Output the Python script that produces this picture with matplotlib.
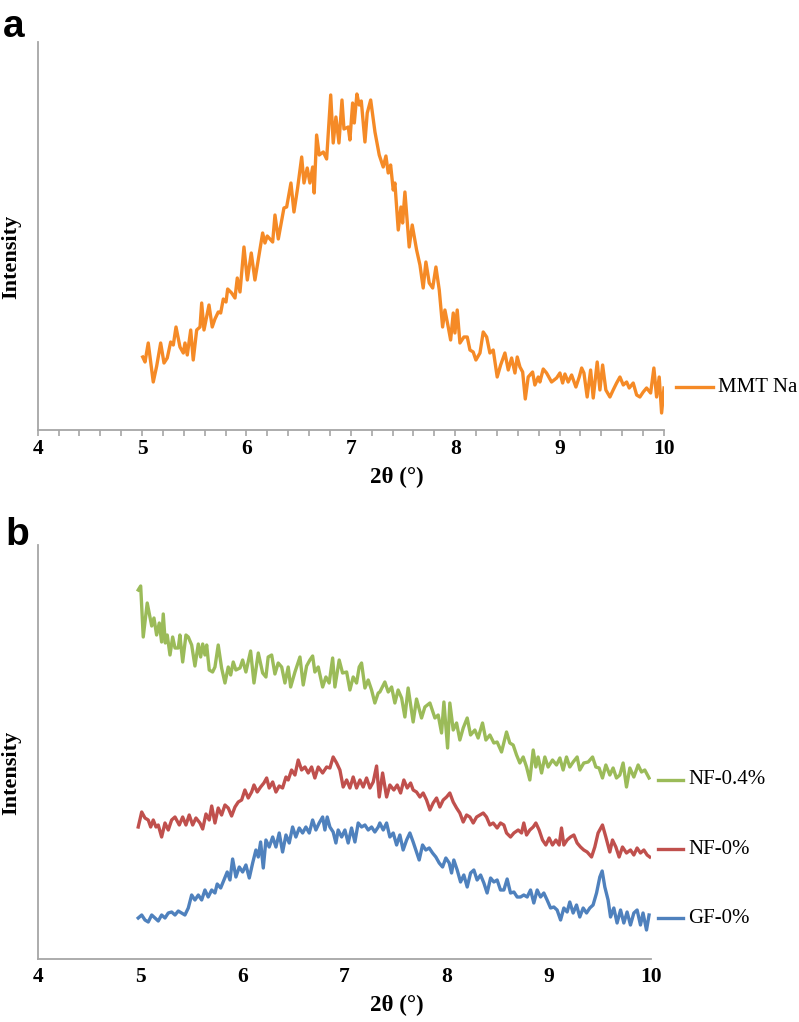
import matplotlib
matplotlib.use("Agg")
import matplotlib.pyplot as plt
from matplotlib.lines import Line2D
from matplotlib.ticker import MultipleLocator

# ---------------- data ----------------
mmt_theta = [5.006, 5.028, 5.059, 5.107, 5.140, 5.178, 5.210, 5.241, 5.274, 5.299, 5.325, 5.363, 5.395, 5.411,
             5.433, 5.466, 5.490, 5.523, 5.555, 5.571, 5.593, 5.641, 5.672, 5.698, 5.730, 5.753, 5.778, 5.804,
             5.820, 5.858, 5.890, 5.912, 5.938, 5.976, 6.008, 6.046, 6.081, 6.155, 6.177, 6.199, 6.251, 6.273,
             6.305, 6.359, 6.385, 6.426, 6.455, 6.490, 6.529, 6.551, 6.582, 6.608, 6.634, 6.649, 6.672, 6.697,
             6.736, 6.768, 6.807, 6.831, 6.857, 6.886, 6.915, 6.934, 6.975, 6.991, 7.017, 7.033, 7.058, 7.080,
             7.100, 7.135, 7.157, 7.190, 7.231, 7.272, 7.310, 7.336, 7.358, 7.381, 7.406, 7.422, 7.454, 7.480,
             7.496, 7.518, 7.559, 7.588, 7.630, 7.662, 7.693, 7.719, 7.751, 7.784, 7.815, 7.847, 7.879, 7.901,
             7.933, 7.956, 7.981, 7.997, 8.019, 8.045, 8.083, 8.115, 8.141, 8.172, 8.198, 8.237, 8.268, 8.301,
             8.332, 8.364, 8.402, 8.435, 8.476, 8.508, 8.540, 8.572, 8.594, 8.620, 8.646, 8.671, 8.699, 8.741,
             8.763, 8.795, 8.811, 8.843, 8.875, 8.923, 8.971, 9.003, 9.029, 9.051, 9.082, 9.115, 9.156, 9.188,
             9.211, 9.233, 9.264, 9.297, 9.322, 9.360, 9.386, 9.412, 9.443, 9.482, 9.513, 9.546, 9.578, 9.610,
             9.642, 9.667, 9.705, 9.738, 9.769, 9.801, 9.833, 9.872, 9.903, 9.929, 9.954, 9.977, 10.0]
mmt_int = [73, 68, 87, 48, 64, 87, 67, 72, 88, 85, 103, 83, 77, 87,
           75, 100, 70, 100, 103, 127, 100, 125, 103, 111, 118, 117, 131, 128,
           141, 137, 132, 152, 138, 183, 150, 177, 150, 197, 187, 194, 188, 215,
           191, 222, 223, 247, 218, 242, 273, 247, 262, 247, 263, 237, 295, 275,
           278, 271, 335, 287, 313, 287, 330, 301, 303, 290, 327, 307, 336, 325,
           329, 288, 317, 330, 298, 275, 263, 274, 257, 265, 240, 247, 200, 223,
           207, 238, 183, 205, 180, 165, 142, 168, 147, 142, 163, 140, 103, 120,
           103, 90, 117, 97, 120, 87, 93, 93, 80, 78, 70, 77, 98, 93,
           77, 80, 53, 65, 77, 60, 72, 57, 73, 63, 58, 31, 53, 58,
           45, 53, 48, 61, 57, 48, 52, 57, 47, 56, 48, 55, 43, 53,
           62, 57, 33, 60, 32, 68, 40, 65, 40, 33, 40, 47, 53, 45,
           48, 42, 47, 35, 33, 38, 42, 37, 62, 33, 53, 17, 42]

nf04_theta = [4.981, 5.005, 5.030, 5.069, 5.096, 5.113, 5.135, 5.161, 5.187, 5.210, 5.226, 5.246, 5.265, 5.292,
              5.318, 5.341, 5.373, 5.389, 5.416, 5.448, 5.471, 5.504, 5.536, 5.569, 5.592, 5.612, 5.634, 5.651,
              5.676, 5.709, 5.732, 5.764, 5.797, 5.830, 5.862, 5.886, 5.911, 5.937, 5.977, 6.003, 6.035, 6.081,
              6.114, 6.156, 6.199, 6.231, 6.253, 6.287, 6.319, 6.351, 6.385, 6.417, 6.449, 6.473, 6.515, 6.564,
              6.596, 6.629, 6.661, 6.688, 6.710, 6.743, 6.786, 6.818, 6.850, 6.884, 6.906, 6.948, 6.981, 7.021,
              7.053, 7.085, 7.118, 7.144, 7.167, 7.200, 7.232, 7.265, 7.297, 7.330, 7.346, 7.395, 7.428, 7.461,
              7.493, 7.525, 7.559, 7.591, 7.623, 7.672, 7.705, 7.754, 7.787, 7.836, 7.885, 7.917, 7.950, 7.973,
              8.009, 8.031, 8.064, 8.097, 8.129, 8.162, 8.201, 8.234, 8.276, 8.308, 8.351, 8.384, 8.423, 8.462,
              8.494, 8.537, 8.586, 8.618, 8.651, 8.684, 8.716, 8.749, 8.782, 8.814, 8.847, 8.873, 8.895, 8.929,
              8.961, 8.993, 9.036, 9.075, 9.108, 9.140, 9.173, 9.205, 9.238, 9.277, 9.303, 9.342, 9.385, 9.428,
              9.460, 9.492, 9.525, 9.558, 9.597, 9.629, 9.662, 9.695, 9.727, 9.760, 9.793, 9.832, 9.874, 9.907,
              9.939, 9.981]
nf04_int = [369, 373, 322, 356, 342, 333, 341, 324, 336, 317, 345, 316, 324, 304,
            322, 311, 311, 324, 297, 324, 322, 314, 293, 315, 302, 315, 304, 314,
            289, 287, 292, 314, 291, 276, 292, 284, 297, 289, 291, 299, 287, 308,
            276, 306, 286, 282, 302, 304, 285, 296, 292, 276, 292, 272, 287, 302,
            274, 293, 299, 303, 287, 292, 272, 282, 276, 301, 272, 299, 286, 287,
            269, 282, 276, 292, 296, 271, 279, 269, 256, 266, 267, 277, 267, 272,
            256, 269, 261, 242, 271, 237, 260, 241, 252, 256, 241, 244, 226, 257,
            211, 256, 229, 236, 219, 231, 241, 224, 229, 221, 236, 219, 224, 216,
            217, 207, 227, 216, 214, 204, 196, 202, 192, 179, 209, 192, 202, 186,
            202, 192, 199, 194, 201, 189, 202, 192, 197, 202, 189, 196, 197, 202,
            192, 191, 181, 194, 184, 191, 181, 184, 196, 172, 191, 182, 194, 187,
            189, 181]

nf0_theta = [4.981, 5.015, 5.047, 5.079, 5.103, 5.128, 5.155, 5.177, 5.210, 5.243, 5.275, 5.308, 5.341, 5.383,
             5.416, 5.448, 5.480, 5.514, 5.546, 5.585, 5.612, 5.644, 5.676, 5.700, 5.732, 5.764, 5.797, 5.830,
             5.862, 5.895, 5.928, 5.960, 5.993, 6.025, 6.058, 6.091, 6.114, 6.146, 6.179, 6.211, 6.238, 6.263,
             6.297, 6.329, 6.361, 6.394, 6.427, 6.449, 6.482, 6.515, 6.547, 6.580, 6.613, 6.645, 6.678, 6.710,
             6.743, 6.786, 6.825, 6.857, 6.889, 6.923, 6.955, 6.987, 7.021, 7.053, 7.085, 7.118, 7.151, 7.183,
             7.216, 7.249, 7.281, 7.314, 7.340, 7.373, 7.412, 7.444, 7.483, 7.516, 7.549, 7.581, 7.614, 7.647,
             7.672, 7.705, 7.738, 7.770, 7.803, 7.836, 7.868, 7.901, 7.933, 7.966, 7.999, 8.031, 8.064, 8.097,
             8.129, 8.162, 8.195, 8.227, 8.260, 8.293, 8.325, 8.358, 8.390, 8.423, 8.455, 8.494, 8.527, 8.560,
             8.586, 8.625, 8.658, 8.700, 8.733, 8.755, 8.782, 8.814, 8.847, 8.873, 8.905, 8.938, 8.971, 9.003,
             9.036, 9.069, 9.101, 9.124, 9.147, 9.179, 9.212, 9.245, 9.277, 9.310, 9.342, 9.375, 9.418, 9.450,
             9.482, 9.525, 9.558, 9.597, 9.623, 9.656, 9.688, 9.721, 9.760, 9.799, 9.832, 9.864, 9.897, 9.930,
             9.962, 9.988]
nf0_int = [132, 147, 141, 139, 132, 139, 132, 134, 122, 136, 129, 139, 142, 134,
           142, 134, 144, 134, 141, 136, 130, 145, 139, 153, 136, 151, 144, 154,
           151, 143, 152, 157, 159, 169, 161, 167, 174, 167, 172, 176, 181, 171,
           177, 167, 173, 171, 182, 179, 189, 184, 199, 189, 192, 186, 192, 181,
           192, 186, 192, 191, 202, 196, 189, 172, 179, 171, 182, 171, 179, 172,
           181, 171, 177, 193, 162, 186, 162, 174, 169, 174, 166, 179, 171, 176,
           169, 167, 162, 166, 159, 149, 156, 161, 152, 159, 162, 166, 157, 151,
           146, 137, 144, 142, 136, 142, 144, 146, 142, 134, 136, 131, 136, 134,
           126, 122, 126, 129, 126, 136, 124, 129, 132, 136, 129, 119, 114, 121,
           114, 119, 114, 131, 114, 119, 122, 124, 116, 112, 109, 107, 102, 112,
           126, 134, 122, 107, 119, 112, 102, 112, 106, 109, 104, 111, 106, 109,
           104, 102]

gf0_theta = [4.981, 5.015, 5.047, 5.079, 5.113, 5.145, 5.177, 5.210, 5.243, 5.275, 5.308, 5.341, 5.373, 5.406,
             5.438, 5.471, 5.504, 5.536, 5.569, 5.602, 5.634, 5.666, 5.700, 5.732, 5.754, 5.788, 5.820, 5.852,
             5.879, 5.905, 5.937, 5.970, 6.003, 6.035, 6.068, 6.101, 6.133, 6.156, 6.179, 6.205, 6.231, 6.263,
             6.297, 6.329, 6.361, 6.394, 6.427, 6.459, 6.492, 6.524, 6.557, 6.590, 6.622, 6.655, 6.688, 6.720,
             6.752, 6.786, 6.808, 6.831, 6.857, 6.889, 6.916, 6.938, 6.972, 7.004, 7.036, 7.069, 7.102, 7.134,
             7.167, 7.200, 7.232, 7.265, 7.297, 7.330, 7.346, 7.379, 7.412, 7.444, 7.477, 7.510, 7.542, 7.574,
             7.608, 7.640, 7.672, 7.705, 7.731, 7.764, 7.796, 7.829, 7.862, 7.894, 7.927, 7.960, 7.992, 8.025,
             8.048, 8.070, 8.103, 8.136, 8.168, 8.201, 8.234, 8.266, 8.298, 8.332, 8.364, 8.396, 8.430, 8.462,
             8.494, 8.527, 8.560, 8.592, 8.625, 8.658, 8.690, 8.723, 8.755, 8.788, 8.821, 8.853, 8.886, 8.919,
             8.951, 8.983, 9.017, 9.049, 9.081, 9.115, 9.147, 9.179, 9.205, 9.238, 9.271, 9.303, 9.336, 9.369,
             9.401, 9.433, 9.467, 9.499, 9.522, 9.548, 9.580, 9.604, 9.636, 9.668, 9.702, 9.734, 9.766, 9.799,
             9.832, 9.864, 9.897, 9.922, 9.956, 9.981]
gf0_int = [41, 44, 39, 37, 44, 41, 38, 44, 41, 46, 47, 44, 48, 46,
           44, 51, 64, 59, 64, 59, 69, 62, 69, 66, 75, 71, 79, 87,
           79, 100, 82, 92, 87, 94, 81, 96, 109, 102, 117, 91, 119, 112,
           122, 112, 126, 107, 124, 116, 132, 122, 131, 126, 132, 126, 139, 129,
           136, 142, 129, 142, 132, 127, 116, 129, 122, 129, 116, 131, 117, 136,
           132, 134, 129, 132, 127, 132, 136, 129, 136, 122, 126, 114, 124, 109,
           119, 126, 117, 107, 99, 114, 109, 111, 106, 102, 96, 92, 101, 96,
           86, 99, 89, 77, 84, 72, 86, 89, 79, 84, 76, 66, 81, 77,
           79, 69, 69, 80, 66, 67, 62, 62, 64, 62, 69, 56, 69, 62,
           66, 59, 51, 52, 49, 39, 51, 47, 57, 46, 54, 42, 51, 46,
           51, 54, 66, 82, 88, 72, 59, 42, 51, 36, 49, 36, 47, 34,
           46, 49, 34, 46, 29, 44]

x_ticks = [4, 5, 6, 7, 8, 9, 10]
x_label = "2θ (°)"
y_label = "Intensity"
legend_a = ["MMT Na"]
legend_b = ["NF-0.4%", "NF-0%", "GF-0%"]

# ---------------- style ----------------
W, H = 799, 1022
ORANGE = "#F58A26"
GREEN = "#9BBB59"
RED = "#C0504D"
BLUE = "#4F81BD"
SPINE = "#A6A6A6"
SERIF = ["Liberation Serif", "DejaVu Serif"]
SANS = ["Liberation Sans", "DejaVu Sans"]
LW = 2.4

fig = plt.figure(figsize=(W / 100, H / 100), dpi=100)


def px(x0, y_top, x1, y_bot):
    return [x0 / W, 1 - y_bot / H, (x1 - x0) / W, (y_bot - y_top) / H]


def style_axis(ax, minor):
    for s in ["top", "right"]:
        ax.spines[s].set_visible(False)
    for s in ["left", "bottom"]:
        ax.spines[s].set_color(SPINE)
        ax.spines[s].set_linewidth(1.3)
    ax.set_yticks([])
    ax.set_xlim(4, 10)
    ax.set_xticks(x_ticks)
    ax.set_xticklabels([str(t) for t in x_ticks], fontfamily=SERIF,
                       fontweight="bold", fontsize=15.5)
    if minor:
        ax.xaxis.set_minor_locator(MultipleLocator(0.2))
        ax.tick_params(axis="x", which="both", direction="out", length=4.5,
                       width=1.2, color=SPINE, pad=2)
    else:
        ax.tick_params(axis="x", which="both", length=0, pad=6)


# ---- panel a ----
axA = fig.add_axes(px(37.7, 42, 664, 430))
axA.plot(mmt_theta, mmt_int, color=ORANGE, lw=LW, solid_joinstyle="round")
axA.set_ylim(0, 388)
style_axis(axA, True)

fig.text(3 / W, 1 - 37 / H, "a", fontfamily=SANS, fontweight="bold",
         fontsize=28, ha="left", va="baseline")
fig.text(11 / W, 1 - 257 / H, y_label, rotation=90, fontfamily=SERIF,
         fontweight="bold", fontsize=16, ha="center", va="center")
fig.text(397 / W, 1 - 477 / H, x_label, fontfamily=SERIF, fontweight="bold",
         fontsize=16.5, ha="center", va="center")
fig.add_artist(Line2D([676 / W, 713 / W], [1 - 387 / H, 1 - 387 / H],
                      color=ORANGE, lw=LW, transform=fig.transFigure))
fig.text(718 / W, 1 - 387 / H, legend_a[0], fontfamily=SERIF, fontsize=15,
         ha="left", va="center")

# ---- panel b ----
axB = fig.add_axes(px(38, 545, 651, 959))
axB.plot(nf04_theta, nf04_int, color=GREEN, lw=LW, solid_joinstyle="round")
axB.plot(nf0_theta, nf0_int, color=RED, lw=LW, solid_joinstyle="round")
axB.plot(gf0_theta, gf0_int, color=BLUE, lw=LW, solid_joinstyle="round")
axB.set_ylim(0, 414)
style_axis(axB, False)

fig.text(5 / W, 1 - 545 / H, "b", fontfamily=SANS, fontweight="bold",
         fontsize=28, ha="left", va="baseline")
fig.text(11 / W, 1 - 773 / H, y_label, rotation=90, fontfamily=SERIF,
         fontweight="bold", fontsize=16, ha="center", va="center")
fig.text(397 / W, 1 - 1005 / H, x_label, fontfamily=SERIF, fontweight="bold",
         fontsize=16.5, ha="center", va="center")
for name, col, yy in zip(legend_b, [GREEN, RED, BLUE], [780, 849, 918]):
    fig.add_artist(Line2D([658 / W, 683 / W], [1 - yy / H, 1 - yy / H],
                          color=col, lw=LW, transform=fig.transFigure))
    fig.text(688 / W, 1 - yy / H, name, fontfamily=SERIF, fontsize=15,
             ha="left", va="center")

fig.savefig("out.png", dpi=100)
